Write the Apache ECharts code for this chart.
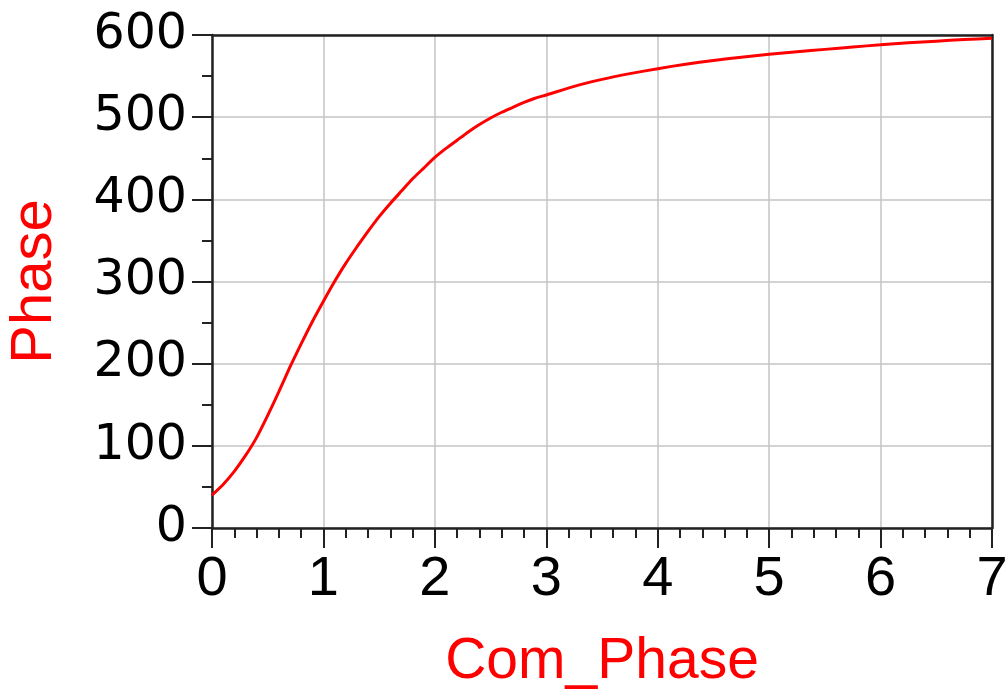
<!DOCTYPE html>
<html>
<head>
<meta charset="utf-8">
<script src="https://cdn.jsdelivr.net/npm/echarts@6/dist/echarts.min.js"></script>
<style>html,body{margin:0;padding:0;background:#fff}#c{width:1005px;height:692px}</style>
</head>
<body>
<div id="c"></div>
<script>
const xValues = [0.0,0.1,0.2,0.3,0.4,0.5,0.6,0.7,0.8,0.9,1.0,1.1,1.2,1.3,1.4,1.5,1.6,1.7,1.8,1.9,2.0,2.1,2.2,2.3,2.4,2.5,2.6,2.7,2.8,2.9,3.0,3.25,3.5,3.75,4.0,4.25,4.5,4.75,5.0,5.25,5.5,5.75,6.0,6.25,6.5,6.75,7.0];
const phaseValues = [40,53,69,88,110,137,166,196,224,251,276,300,322,342,361,379,395,410,425,438,451,462,472,482,491,499,506,512,518,523,527,537.5,546,553,559,564.5,569,573,576.5,579.5,582.5,585.5,588,590.5,592.5,594.5,596];
const xName = 'Com_Phase';
const yName = 'Phase';

const chart = echarts.init(document.getElementById('c'), null, {renderer: 'canvas'});
const data = xValues.map((x, i) => [x, phaseValues[i]]);
const darkLine = {color: '#222', width: 2.5};
chart.setOption({
  animation: false,
  backgroundColor: '#fff',
  grid: {left: 212, right: 13, top: 35, bottom: 164, containLabel: false, outerBoundsMode: 'none', show: false},
  xAxis: [{
    type: 'value', min: 0, max: 7, interval: 1,
    name: xName, nameLocation: 'middle', nameGap: 106,
    nameTextStyle: {color: '#ff0000', fontSize: 57, fontFamily: 'Liberation Sans'},
    axisLine: {show: true, onZero: false, lineStyle: darkLine},
    axisTick: {show: true, inside: false, length: 20, lineStyle: {color: '#222', width: 2}},
    minorTick: {show: true, splitNumber: 5, length: 10, lineStyle: {color: '#222', width: 2}},
    axisLabel: {color: '#000', fontSize: 56, fontFamily: 'Liberation Sans', margin: 24},
    splitLine: {show: true, lineStyle: {color: '#c4c4c4', width: 1.5}}
  }, {
    type: 'value', min: 0, max: 7, position: 'top',
    axisLine: {show: true, onZero: false, lineStyle: darkLine},
    axisTick: {show: false}, axisLabel: {show: false}, splitLine: {show: false}
  }],
  yAxis: [{
    type: 'value', min: 0, max: 600, interval: 100,
    name: yName, nameLocation: 'middle', nameGap: 148, nameRotate: 90,
    nameTextStyle: {color: '#ff0000', fontSize: 58, fontFamily: 'Liberation Sans'},
    axisLine: {show: true, onZero: false, lineStyle: darkLine},
    axisTick: {show: true, inside: false, length: 20, lineStyle: {color: '#222', width: 2}},
    minorTick: {show: true, splitNumber: 2, length: 10, lineStyle: {color: '#222', width: 2}},
    axisLabel: {color: '#000', fontSize: 49, fontFamily: 'DejaVu Sans', margin: 25},
    splitLine: {show: true, lineStyle: {color: '#c4c4c4', width: 1.5}}
  }, {
    type: 'value', min: 0, max: 600, position: 'right',
    axisLine: {show: true, onZero: false, lineStyle: darkLine},
    axisTick: {show: false}, axisLabel: {show: false}, splitLine: {show: false}
  }],
  series: [{
    type: 'line', data: data, showSymbol: false, smooth: 0.2,
    xAxisIndex: 0, yAxisIndex: 0,
    lineStyle: {color: '#ff0000', width: 3}
  }]
});
</script>
</body>
</html>
